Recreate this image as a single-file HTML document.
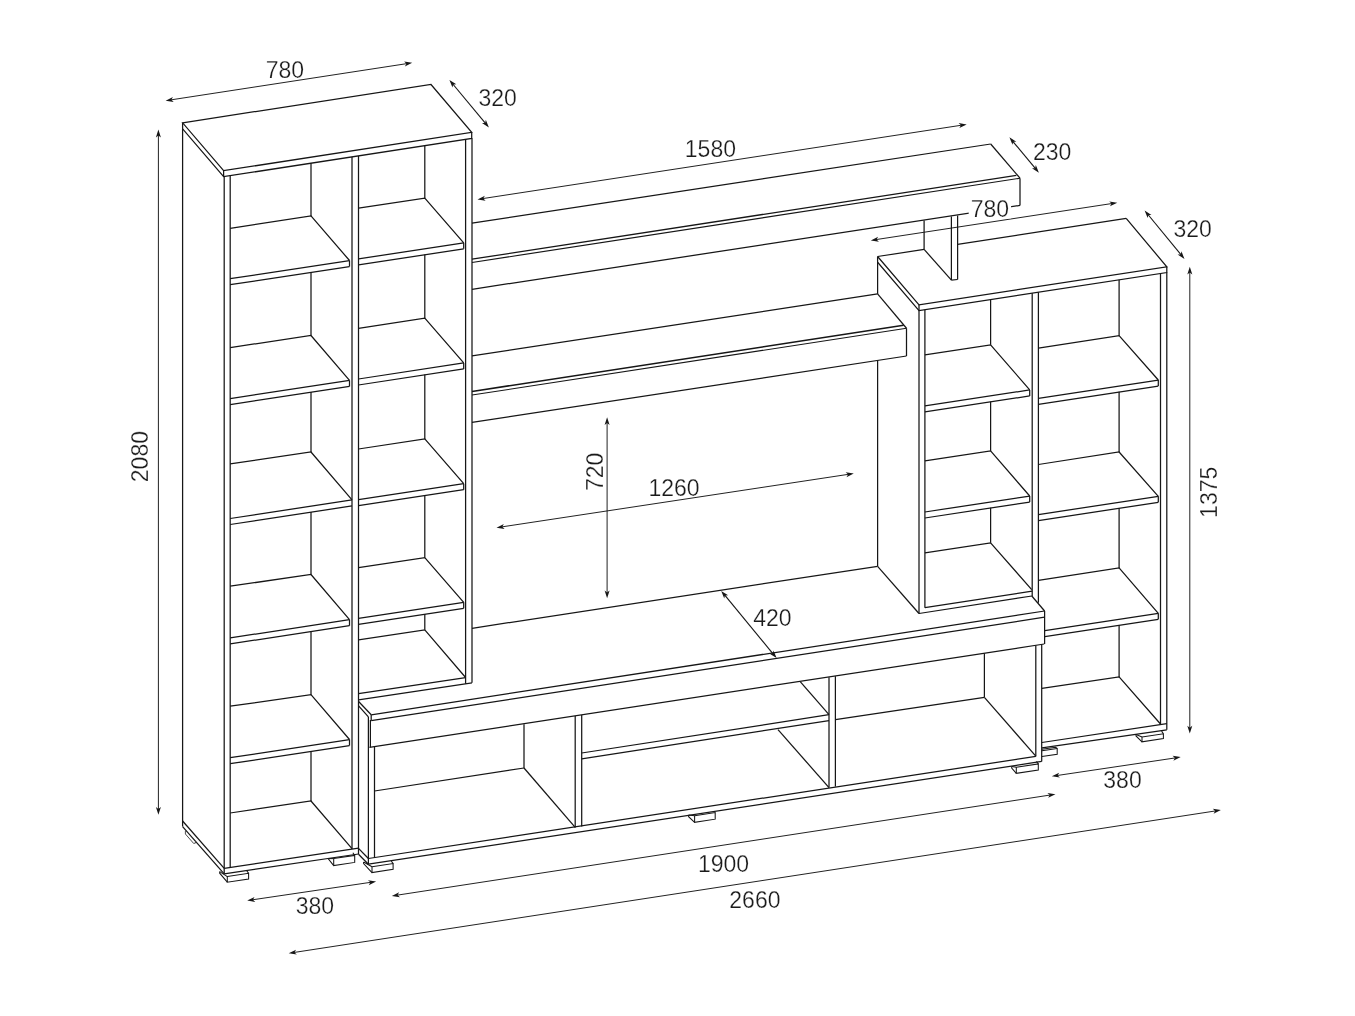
<!DOCTYPE html>
<html><head><meta charset="utf-8"><title>Diagram</title>
<style>
html,body{margin:0;padding:0;background:#fff;}
body{width:1355px;height:1016px;overflow:hidden;font-family:"Liberation Sans",sans-serif;}
svg{display:block;will-change:transform;}
text{font-family:"Liberation Sans",sans-serif;}
</style></head><body>
<svg width="1355" height="1016" viewBox="0 0 1355 1016">
<rect width="1355" height="1016" fill="#ffffff"/>
<polygon points="182.60,122.80 431.00,84.50 471.70,132.40 223.60,170.70" fill="none" stroke="#161616" stroke-width="1.25" stroke-linejoin="miter"/>
<polyline points="182.60,122.80 182.60,128.80 223.60,176.70 471.70,138.40 471.70,132.40" fill="none" stroke="#161616" stroke-width="1.25" stroke-linejoin="miter"/>
<line x1="223.60" y1="170.70" x2="223.60" y2="176.70" stroke="#161616" stroke-width="1.25"/>
<line x1="182.60" y1="128.80" x2="182.60" y2="826.60" stroke="#161616" stroke-width="1.25"/>
<line x1="224.20" y1="176.60" x2="224.20" y2="873.80" stroke="#161616" stroke-width="1.25"/>
<line x1="230.20" y1="175.70" x2="230.20" y2="867.40" stroke="#161616" stroke-width="1.25"/>
<line x1="352.00" y1="156.88" x2="352.00" y2="848.90" stroke="#161616" stroke-width="1.25"/>
<line x1="358.50" y1="155.88" x2="358.50" y2="854.20" stroke="#161616" stroke-width="1.25"/>
<line x1="465.60" y1="139.34" x2="465.60" y2="683.80" stroke="#161616" stroke-width="1.25"/>
<line x1="472.00" y1="138.35" x2="472.00" y2="682.80" stroke="#161616" stroke-width="1.25"/>
<line x1="230.20" y1="278.70" x2="349.50" y2="260.51" stroke="#161616" stroke-width="1.25"/>
<line x1="230.20" y1="284.70" x2="349.50" y2="266.51" stroke="#161616" stroke-width="1.25"/>
<line x1="349.50" y1="260.51" x2="349.50" y2="266.51" stroke="#161616" stroke-width="1.25"/>
<polyline points="230.20,228.40 311.00,215.90 349.50,260.51" fill="none" stroke="#161616" stroke-width="1.25" stroke-linejoin="miter"/>
<line x1="311.00" y1="163.21" x2="311.00" y2="215.90" stroke="#161616" stroke-width="1.25"/>
<line x1="230.20" y1="398.60" x2="349.50" y2="380.41" stroke="#161616" stroke-width="1.25"/>
<line x1="230.20" y1="404.60" x2="349.50" y2="386.41" stroke="#161616" stroke-width="1.25"/>
<line x1="349.50" y1="380.41" x2="349.50" y2="386.41" stroke="#161616" stroke-width="1.25"/>
<polyline points="230.20,347.60 311.00,335.50 349.50,380.41" fill="none" stroke="#161616" stroke-width="1.25" stroke-linejoin="miter"/>
<line x1="311.00" y1="272.10" x2="311.00" y2="335.50" stroke="#161616" stroke-width="1.25"/>
<line x1="230.20" y1="518.50" x2="352.00" y2="499.93" stroke="#161616" stroke-width="1.25"/>
<line x1="230.20" y1="524.50" x2="352.00" y2="505.93" stroke="#161616" stroke-width="1.25"/>
<polyline points="230.20,463.90 311.00,452.00 352.00,499.93" fill="none" stroke="#161616" stroke-width="1.25" stroke-linejoin="miter"/>
<line x1="311.00" y1="392.00" x2="311.00" y2="452.00" stroke="#161616" stroke-width="1.25"/>
<line x1="230.20" y1="637.90" x2="349.50" y2="619.71" stroke="#161616" stroke-width="1.25"/>
<line x1="230.20" y1="643.90" x2="349.50" y2="625.71" stroke="#161616" stroke-width="1.25"/>
<line x1="349.50" y1="619.71" x2="349.50" y2="625.71" stroke="#161616" stroke-width="1.25"/>
<polyline points="230.20,586.20 311.00,574.50 349.50,619.71" fill="none" stroke="#161616" stroke-width="1.25" stroke-linejoin="miter"/>
<line x1="311.00" y1="511.90" x2="311.00" y2="574.50" stroke="#161616" stroke-width="1.25"/>
<line x1="230.20" y1="757.70" x2="349.50" y2="739.51" stroke="#161616" stroke-width="1.25"/>
<line x1="230.20" y1="763.70" x2="349.50" y2="745.51" stroke="#161616" stroke-width="1.25"/>
<line x1="349.50" y1="739.51" x2="349.50" y2="745.51" stroke="#161616" stroke-width="1.25"/>
<polyline points="230.20,706.20 311.00,694.70 349.50,739.51" fill="none" stroke="#161616" stroke-width="1.25" stroke-linejoin="miter"/>
<line x1="311.00" y1="631.30" x2="311.00" y2="694.70" stroke="#161616" stroke-width="1.25"/>
<polyline points="230.20,813.00 311.00,801.00 352.00,848.70" fill="none" stroke="#161616" stroke-width="1.25" stroke-linejoin="miter"/>
<line x1="311.00" y1="751.10" x2="311.00" y2="801.00" stroke="#161616" stroke-width="1.25"/>
<line x1="224.20" y1="868.30" x2="358.50" y2="848.20" stroke="#161616" stroke-width="1.25"/>
<line x1="224.20" y1="873.80" x2="358.50" y2="854.00" stroke="#161616" stroke-width="1.25"/>
<line x1="182.60" y1="821.00" x2="224.20" y2="868.30" stroke="#161616" stroke-width="1.25"/>
<line x1="182.60" y1="826.60" x2="224.20" y2="873.80" stroke="#161616" stroke-width="1.25"/>
<line x1="358.50" y1="258.90" x2="463.70" y2="242.86" stroke="#161616" stroke-width="1.25"/>
<line x1="358.50" y1="264.90" x2="463.70" y2="248.86" stroke="#161616" stroke-width="1.25"/>
<line x1="463.70" y1="242.86" x2="463.70" y2="248.86" stroke="#161616" stroke-width="1.25"/>
<polyline points="358.50,208.20 424.80,198.10 463.70,242.86" fill="none" stroke="#161616" stroke-width="1.25" stroke-linejoin="miter"/>
<line x1="424.80" y1="145.64" x2="424.80" y2="198.10" stroke="#161616" stroke-width="1.25"/>
<line x1="358.50" y1="379.00" x2="463.70" y2="362.96" stroke="#161616" stroke-width="1.25"/>
<line x1="358.50" y1="385.00" x2="463.70" y2="368.96" stroke="#161616" stroke-width="1.25"/>
<line x1="463.70" y1="362.96" x2="463.70" y2="368.96" stroke="#161616" stroke-width="1.25"/>
<polyline points="358.50,328.30 424.80,318.20 463.70,362.96" fill="none" stroke="#161616" stroke-width="1.25" stroke-linejoin="miter"/>
<line x1="424.80" y1="254.50" x2="424.80" y2="318.20" stroke="#161616" stroke-width="1.25"/>
<line x1="358.50" y1="499.70" x2="463.70" y2="483.66" stroke="#161616" stroke-width="1.25"/>
<line x1="358.50" y1="505.70" x2="463.70" y2="489.66" stroke="#161616" stroke-width="1.25"/>
<line x1="463.70" y1="483.66" x2="463.70" y2="489.66" stroke="#161616" stroke-width="1.25"/>
<polyline points="358.50,449.00 424.80,438.90 463.70,483.66" fill="none" stroke="#161616" stroke-width="1.25" stroke-linejoin="miter"/>
<line x1="424.80" y1="374.60" x2="424.80" y2="438.90" stroke="#161616" stroke-width="1.25"/>
<line x1="358.50" y1="618.40" x2="463.70" y2="602.36" stroke="#161616" stroke-width="1.25"/>
<line x1="358.50" y1="624.40" x2="463.70" y2="608.36" stroke="#161616" stroke-width="1.25"/>
<line x1="463.70" y1="602.36" x2="463.70" y2="608.36" stroke="#161616" stroke-width="1.25"/>
<polyline points="358.50,567.70 424.80,557.60 463.70,602.36" fill="none" stroke="#161616" stroke-width="1.25" stroke-linejoin="miter"/>
<line x1="424.80" y1="495.30" x2="424.80" y2="557.60" stroke="#161616" stroke-width="1.25"/>
<polyline points="358.50,639.80 424.80,629.80 465.60,677.50" fill="none" stroke="#161616" stroke-width="1.25" stroke-linejoin="miter"/>
<line x1="424.80" y1="614.00" x2="424.80" y2="629.80" stroke="#161616" stroke-width="1.25"/>
<line x1="358.50" y1="693.60" x2="465.60" y2="677.60" stroke="#161616" stroke-width="1.25"/>
<line x1="358.50" y1="699.80" x2="472.00" y2="682.80" stroke="#161616" stroke-width="1.25"/>
<polygon points="227.30,876.60 248.60,873.35 248.60,878.95 227.30,882.20" fill="none" stroke="#161616" stroke-width="1.05" stroke-linejoin="miter"/>
<polyline points="219.70,871.60 227.30,876.60" fill="none" stroke="#161616" stroke-width="1.05" stroke-linejoin="miter"/>
<polyline points="219.70,871.60 219.70,873.20 227.30,882.20" fill="none" stroke="#161616" stroke-width="1.05" stroke-linejoin="miter"/>
<line x1="246.80" y1="870.75" x2="248.60" y2="873.35" stroke="#161616" stroke-width="1.05"/>
<polygon points="333.70,858.60 354.70,855.40 354.70,862.40 333.70,865.60" fill="none" stroke="#161616" stroke-width="1.05" stroke-linejoin="miter"/>
<polyline points="328.50,858.60 333.70,858.60" fill="none" stroke="#161616" stroke-width="1.05" stroke-linejoin="miter"/>
<polyline points="328.50,858.60 328.50,859.00 333.70,865.60" fill="none" stroke="#161616" stroke-width="1.05" stroke-linejoin="miter"/>
<line x1="352.90" y1="852.80" x2="354.70" y2="855.40" stroke="#161616" stroke-width="1.05"/>
<polyline points="185.40,831.00 185.40,834.00 193.60,843.40 195.60,843.00 195.60,840.90" fill="none" stroke="#3a3a3a" stroke-width="0.9" stroke-linejoin="miter"/>
<line x1="472.00" y1="223.20" x2="990.70" y2="144.00" stroke="#161616" stroke-width="1.25"/>
<line x1="990.70" y1="144.00" x2="1020.00" y2="178.20" stroke="#161616" stroke-width="1.25"/>
<line x1="472.00" y1="259.20" x2="1016.40" y2="175.40" stroke="#161616" stroke-width="1.3"/>
<line x1="472.00" y1="262.50" x2="1020.00" y2="178.20" stroke="#161616" stroke-width="1.15"/>
<line x1="1020.00" y1="178.20" x2="1020.00" y2="205.40" stroke="#161616" stroke-width="1.25"/>
<line x1="472.00" y1="289.30" x2="1020.00" y2="205.40" stroke="#161616" stroke-width="1.25"/>
<line x1="924.10" y1="220.60" x2="924.10" y2="249.40" stroke="#161616" stroke-width="1.25"/>
<line x1="951.40" y1="216.40" x2="951.40" y2="280.10" stroke="#161616" stroke-width="1.25"/>
<line x1="957.60" y1="215.50" x2="957.60" y2="279.50" stroke="#161616" stroke-width="1.25"/>
<line x1="951.40" y1="280.10" x2="957.60" y2="279.50" stroke="#161616" stroke-width="1.25"/>
<line x1="924.10" y1="249.40" x2="951.40" y2="280.10" stroke="#161616" stroke-width="1.25"/>
<line x1="472.00" y1="355.90" x2="877.60" y2="293.90" stroke="#161616" stroke-width="1.25"/>
<line x1="877.60" y1="293.90" x2="906.50" y2="328.25" stroke="#161616" stroke-width="1.25"/>
<line x1="472.00" y1="391.50" x2="903.60" y2="325.30" stroke="#161616" stroke-width="1.6"/>
<line x1="472.00" y1="395.00" x2="906.50" y2="328.25" stroke="#161616" stroke-width="1.05"/>
<line x1="906.50" y1="328.25" x2="906.50" y2="356.00" stroke="#161616" stroke-width="1.25"/>
<line x1="472.00" y1="422.40" x2="906.50" y2="356.00" stroke="#161616" stroke-width="1.25"/>
<line x1="877.60" y1="256.50" x2="924.10" y2="249.40" stroke="#161616" stroke-width="1.25"/>
<line x1="957.60" y1="244.30" x2="1126.20" y2="218.40" stroke="#161616" stroke-width="1.25"/>
<polyline points="1126.20,218.40 1166.80,266.80 919.00,304.90 877.60,256.50" fill="none" stroke="#161616" stroke-width="1.25" stroke-linejoin="miter"/>
<polyline points="877.60,256.50 877.60,262.20 919.00,310.60 1166.80,272.50 1166.80,266.80" fill="none" stroke="#161616" stroke-width="1.25" stroke-linejoin="miter"/>
<line x1="919.00" y1="304.90" x2="919.00" y2="310.60" stroke="#161616" stroke-width="1.25"/>
<line x1="877.60" y1="262.00" x2="877.60" y2="293.90" stroke="#161616" stroke-width="1.25"/>
<line x1="877.60" y1="360.40" x2="877.60" y2="566.30" stroke="#161616" stroke-width="1.25"/>
<line x1="919.00" y1="310.60" x2="919.00" y2="613.50" stroke="#161616" stroke-width="1.25"/>
<line x1="924.90" y1="309.69" x2="924.90" y2="607.70" stroke="#161616" stroke-width="1.25"/>
<line x1="1032.20" y1="293.20" x2="1032.20" y2="595.90" stroke="#161616" stroke-width="1.25"/>
<line x1="1038.40" y1="292.24" x2="1038.40" y2="602.80" stroke="#161616" stroke-width="1.25"/>
<line x1="1160.50" y1="273.47" x2="1160.50" y2="724.20" stroke="#161616" stroke-width="1.25"/>
<line x1="1166.80" y1="272.50" x2="1166.80" y2="729.80" stroke="#161616" stroke-width="1.25"/>
<line x1="924.90" y1="405.90" x2="1029.70" y2="389.92" stroke="#161616" stroke-width="1.25"/>
<line x1="924.90" y1="411.90" x2="1029.70" y2="395.92" stroke="#161616" stroke-width="1.25"/>
<line x1="1029.70" y1="389.92" x2="1029.70" y2="395.92" stroke="#161616" stroke-width="1.25"/>
<polyline points="924.90,354.80 990.60,344.80 1029.70,389.92" fill="none" stroke="#161616" stroke-width="1.25" stroke-linejoin="miter"/>
<line x1="990.60" y1="299.59" x2="990.60" y2="344.80" stroke="#161616" stroke-width="1.25"/>
<line x1="924.90" y1="512.00" x2="1029.70" y2="496.02" stroke="#161616" stroke-width="1.25"/>
<line x1="924.90" y1="518.00" x2="1029.70" y2="502.02" stroke="#161616" stroke-width="1.25"/>
<line x1="1029.70" y1="496.02" x2="1029.70" y2="502.02" stroke="#161616" stroke-width="1.25"/>
<polyline points="924.90,460.90 990.60,450.90 1029.70,496.02" fill="none" stroke="#161616" stroke-width="1.25" stroke-linejoin="miter"/>
<line x1="990.60" y1="401.60" x2="990.60" y2="450.90" stroke="#161616" stroke-width="1.25"/>
<polyline points="924.90,552.90 990.60,542.80 1031.70,589.60" fill="none" stroke="#161616" stroke-width="1.25" stroke-linejoin="miter"/>
<line x1="990.60" y1="507.70" x2="990.60" y2="542.80" stroke="#161616" stroke-width="1.25"/>
<line x1="924.90" y1="607.70" x2="1032.20" y2="591.20" stroke="#161616" stroke-width="1.25"/>
<line x1="919.00" y1="613.50" x2="1031.90" y2="596.00" stroke="#161616" stroke-width="1.25"/>
<line x1="1038.40" y1="398.30" x2="1158.30" y2="380.02" stroke="#161616" stroke-width="1.25"/>
<line x1="1038.40" y1="404.30" x2="1158.30" y2="386.02" stroke="#161616" stroke-width="1.25"/>
<line x1="1158.30" y1="380.02" x2="1158.30" y2="386.02" stroke="#161616" stroke-width="1.25"/>
<polyline points="1038.40,348.20 1119.10,335.70 1158.30,380.02" fill="none" stroke="#161616" stroke-width="1.25" stroke-linejoin="miter"/>
<line x1="1119.10" y1="279.83" x2="1119.10" y2="335.70" stroke="#161616" stroke-width="1.25"/>
<line x1="1038.40" y1="514.60" x2="1158.30" y2="496.32" stroke="#161616" stroke-width="1.25"/>
<line x1="1038.40" y1="520.60" x2="1158.30" y2="502.32" stroke="#161616" stroke-width="1.25"/>
<line x1="1158.30" y1="496.32" x2="1158.30" y2="502.32" stroke="#161616" stroke-width="1.25"/>
<polyline points="1038.40,464.50 1119.10,452.00 1158.30,496.32" fill="none" stroke="#161616" stroke-width="1.25" stroke-linejoin="miter"/>
<line x1="1119.10" y1="391.70" x2="1119.10" y2="452.00" stroke="#161616" stroke-width="1.25"/>
<line x1="1044.80" y1="630.60" x2="1158.30" y2="613.29" stroke="#161616" stroke-width="1.25"/>
<line x1="1044.80" y1="636.60" x2="1158.30" y2="619.29" stroke="#161616" stroke-width="1.25"/>
<line x1="1158.30" y1="613.29" x2="1158.30" y2="619.29" stroke="#161616" stroke-width="1.25"/>
<polyline points="1038.40,580.30 1119.10,567.90 1158.30,613.29" fill="none" stroke="#161616" stroke-width="1.25" stroke-linejoin="miter"/>
<line x1="1119.10" y1="508.00" x2="1119.10" y2="567.90" stroke="#161616" stroke-width="1.25"/>
<polyline points="1041.90,688.30 1119.10,676.90 1160.50,724.00" fill="none" stroke="#161616" stroke-width="1.25" stroke-linejoin="miter"/>
<line x1="1119.10" y1="625.27" x2="1119.10" y2="676.90" stroke="#161616" stroke-width="1.25"/>
<line x1="1041.90" y1="742.50" x2="1166.80" y2="723.60" stroke="#161616" stroke-width="1.25"/>
<line x1="1041.90" y1="747.80" x2="1166.80" y2="729.80" stroke="#161616" stroke-width="1.25"/>
<polygon points="1142.00,737.00 1163.40,733.74 1163.40,738.54 1142.00,741.80" fill="none" stroke="#161616" stroke-width="1.05" stroke-linejoin="miter"/>
<polyline points="1136.00,734.40 1142.00,737.00" fill="none" stroke="#161616" stroke-width="1.05" stroke-linejoin="miter"/>
<polyline points="1136.00,734.40 1136.00,736.00 1142.00,741.80" fill="none" stroke="#161616" stroke-width="1.05" stroke-linejoin="miter"/>
<line x1="1161.60" y1="731.14" x2="1163.40" y2="733.74" stroke="#161616" stroke-width="1.05"/>
<polyline points="1041.90,749.20 1055.60,747.30 1057.20,748.60 1057.20,754.30 1041.90,756.50" fill="none" stroke="#161616" stroke-width="1.05" stroke-linejoin="miter"/>
<line x1="1041.90" y1="750.80" x2="1057.20" y2="748.60" stroke="#161616" stroke-width="1.05"/>
<line x1="472.00" y1="628.30" x2="877.60" y2="566.30" stroke="#161616" stroke-width="1.25"/>
<line x1="877.60" y1="566.30" x2="919.00" y2="613.50" stroke="#161616" stroke-width="1.25"/>
<line x1="358.60" y1="701.50" x2="371.20" y2="714.80" stroke="#161616" stroke-width="1.25"/>
<line x1="371.20" y1="714.80" x2="1044.60" y2="611.00" stroke="#161616" stroke-width="1.25"/>
<line x1="371.20" y1="720.60" x2="1044.60" y2="617.20" stroke="#161616" stroke-width="1.25"/>
<line x1="369.40" y1="747.30" x2="1044.20" y2="644.00" stroke="#161616" stroke-width="1.25"/>
<line x1="1031.80" y1="596.00" x2="1044.60" y2="611.00" stroke="#161616" stroke-width="1.25"/>
<line x1="1044.60" y1="611.00" x2="1044.60" y2="644.00" stroke="#161616" stroke-width="1.25"/>
<line x1="358.60" y1="705.90" x2="368.40" y2="716.90" stroke="#161616" stroke-width="1.25"/>
<line x1="368.40" y1="716.90" x2="368.40" y2="864.20" stroke="#161616" stroke-width="1.25"/>
<line x1="371.20" y1="714.80" x2="371.20" y2="720.40" stroke="#161616" stroke-width="1.25"/>
<line x1="370.40" y1="720.00" x2="370.40" y2="747.20" stroke="#161616" stroke-width="1.25"/>
<line x1="374.50" y1="746.50" x2="374.50" y2="857.60" stroke="#161616" stroke-width="1.25"/>
<line x1="358.50" y1="848.40" x2="368.40" y2="858.50" stroke="#161616" stroke-width="1.25"/>
<line x1="358.50" y1="854.20" x2="368.40" y2="864.20" stroke="#161616" stroke-width="1.25"/>
<line x1="368.40" y1="858.50" x2="1035.80" y2="756.40" stroke="#161616" stroke-width="1.25"/>
<line x1="368.40" y1="864.20" x2="1041.70" y2="761.40" stroke="#161616" stroke-width="1.25"/>
<line x1="1035.80" y1="645.40" x2="1035.80" y2="756.40" stroke="#161616" stroke-width="1.25"/>
<line x1="1041.70" y1="644.50" x2="1041.70" y2="761.40" stroke="#161616" stroke-width="1.25"/>
<line x1="374.50" y1="791.00" x2="524.00" y2="768.00" stroke="#161616" stroke-width="1.25"/>
<line x1="524.00" y1="724.20" x2="524.00" y2="768.00" stroke="#161616" stroke-width="1.25"/>
<line x1="524.00" y1="768.00" x2="575.20" y2="827.40" stroke="#161616" stroke-width="1.25"/>
<line x1="575.20" y1="716.00" x2="575.20" y2="827.40" stroke="#161616" stroke-width="1.25"/>
<line x1="581.70" y1="715.00" x2="581.70" y2="826.40" stroke="#161616" stroke-width="1.25"/>
<line x1="581.70" y1="753.00" x2="829.00" y2="714.70" stroke="#161616" stroke-width="1.25"/>
<line x1="581.70" y1="758.90" x2="829.00" y2="720.60" stroke="#161616" stroke-width="1.25"/>
<line x1="800.20" y1="681.60" x2="829.00" y2="714.70" stroke="#161616" stroke-width="1.25"/>
<line x1="778.00" y1="729.60" x2="829.00" y2="787.60" stroke="#161616" stroke-width="1.25"/>
<line x1="829.00" y1="677.20" x2="829.00" y2="787.60" stroke="#161616" stroke-width="1.25"/>
<line x1="835.40" y1="676.20" x2="835.40" y2="786.60" stroke="#161616" stroke-width="1.25"/>
<line x1="835.40" y1="719.60" x2="984.40" y2="697.30" stroke="#161616" stroke-width="1.25"/>
<line x1="984.40" y1="653.40" x2="984.40" y2="697.30" stroke="#161616" stroke-width="1.25"/>
<line x1="984.40" y1="697.30" x2="1035.80" y2="756.20" stroke="#161616" stroke-width="1.25"/>
<polygon points="372.00,866.80 393.10,863.58 393.10,869.38 372.00,872.60" fill="none" stroke="#161616" stroke-width="1.05" stroke-linejoin="miter"/>
<polyline points="363.60,862.00 372.00,866.80" fill="none" stroke="#161616" stroke-width="1.05" stroke-linejoin="miter"/>
<polyline points="363.60,862.00 363.60,863.60 372.00,872.60" fill="none" stroke="#161616" stroke-width="1.05" stroke-linejoin="miter"/>
<line x1="391.30" y1="860.98" x2="393.10" y2="863.58" stroke="#161616" stroke-width="1.05"/>
<polygon points="694.60,815.70 715.20,812.56 715.20,819.16 694.60,822.30" fill="none" stroke="#161616" stroke-width="1.05" stroke-linejoin="miter"/>
<polyline points="688.60,815.10 694.60,815.70" fill="none" stroke="#161616" stroke-width="1.05" stroke-linejoin="miter"/>
<polyline points="688.60,815.10 688.60,816.70 694.60,822.30" fill="none" stroke="#161616" stroke-width="1.05" stroke-linejoin="miter"/>
<polygon points="1016.30,767.30 1038.30,763.94 1038.30,769.94 1016.30,773.30" fill="none" stroke="#161616" stroke-width="1.05" stroke-linejoin="miter"/>
<polyline points="1011.70,766.50 1016.30,767.30" fill="none" stroke="#161616" stroke-width="1.05" stroke-linejoin="miter"/>
<polyline points="1011.70,766.50 1011.70,768.10 1016.30,773.30" fill="none" stroke="#161616" stroke-width="1.05" stroke-linejoin="miter"/>
<line x1="1036.50" y1="761.34" x2="1038.30" y2="763.94" stroke="#161616" stroke-width="1.05"/>
<line x1="170.15" y1="99.99" x2="407.65" y2="63.51" stroke="#161616" stroke-width="0.95"/>
<polygon points="165.61,100.69 172.94,97.04 171.34,99.81 173.70,101.98" fill="#161616"/>
<polygon points="412.19,62.81 404.86,66.46 406.46,63.69 404.10,61.52" fill="#161616"/>
<text x="284.90" y="78.03" text-anchor="middle" font-size="23.0" fill="#1a1a1a" stroke="#ffffff" stroke-width="0.25">780</text>
<line x1="452.36" y1="83.48" x2="485.94" y2="123.92" stroke="#161616" stroke-width="1.1"/>
<polygon points="449.42,79.94 456.32,84.34 453.12,84.40 452.48,87.54" fill="#161616"/>
<polygon points="488.88,127.46 481.98,123.06 485.18,123.00 485.82,119.86" fill="#161616"/>
<text x="497.60" y="106.43" text-anchor="middle" font-size="23.0" fill="#1a1a1a" stroke="#ffffff" stroke-width="0.25">320</text>
<line x1="158.40" y1="134.20" x2="158.40" y2="810.20" stroke="#161616" stroke-width="0.95"/>
<polygon points="158.40,129.60 160.90,137.40 158.40,135.40 155.90,137.40" fill="#161616"/>
<polygon points="158.40,814.80 155.90,807.00 158.40,809.00 160.90,807.00" fill="#161616"/>
<text x="140.00" y="464.83" text-anchor="middle" font-size="23.0" fill="#1a1a1a" stroke="#ffffff" stroke-width="0.25" transform="rotate(-90 140.00 456.60)">2080</text>
<line x1="482.05" y1="198.69" x2="962.15" y2="125.11" stroke="#161616" stroke-width="0.95"/>
<polygon points="477.51,199.39 484.84,195.74 483.24,198.51 485.60,200.68" fill="#161616"/>
<polygon points="966.69,124.41 959.36,128.06 960.96,125.29 958.60,123.12" fill="#161616"/>
<text x="710.40" y="156.83" text-anchor="middle" font-size="23.0" fill="#1a1a1a" stroke="#ffffff" stroke-width="0.25">1580</text>
<line x1="1012.36" y1="140.78" x2="1035.94" y2="169.12" stroke="#161616" stroke-width="1.1"/>
<polygon points="1009.42,137.24 1016.33,141.64 1013.13,141.70 1012.48,144.83" fill="#161616"/>
<polygon points="1038.88,172.66 1031.97,168.26 1035.17,168.20 1035.82,165.07" fill="#161616"/>
<text x="1052.20" y="159.83" text-anchor="middle" font-size="23.0" fill="#1a1a1a" stroke="#ffffff" stroke-width="0.25">230</text>
<line x1="875.35" y1="239.70" x2="1112.75" y2="203.40" stroke="#161616" stroke-width="0.95"/>
<polygon points="870.81,240.39 878.14,236.74 876.54,239.51 878.90,241.68" fill="#161616"/>
<polygon points="1117.29,202.71 1109.96,206.36 1111.56,203.59 1109.20,201.42" fill="#161616"/>
<rect x="968.72" y="199.04" width="42.36" height="19.32" fill="#fff"/>
<text x="989.90" y="216.93" text-anchor="middle" font-size="23.0" fill="#1a1a1a" stroke="#ffffff" stroke-width="0.25">780</text>
<line x1="1147.54" y1="213.99" x2="1181.56" y2="255.41" stroke="#161616" stroke-width="1.1"/>
<polygon points="1144.62,210.44 1151.50,214.88 1148.30,214.92 1147.64,218.05" fill="#161616"/>
<polygon points="1184.48,258.96 1177.60,254.52 1180.80,254.48 1181.46,251.35" fill="#161616"/>
<text x="1192.70" y="237.23" text-anchor="middle" font-size="23.0" fill="#1a1a1a" stroke="#ffffff" stroke-width="0.25">320</text>
<line x1="1189.80" y1="271.40" x2="1189.80" y2="728.90" stroke="#161616" stroke-width="0.95"/>
<polygon points="1189.80,266.80 1192.30,274.60 1189.80,272.60 1187.30,274.60" fill="#161616"/>
<polygon points="1189.80,733.50 1187.30,725.70 1189.80,727.70 1192.30,725.70" fill="#161616"/>
<text x="1208.70" y="500.53" text-anchor="middle" font-size="23.0" fill="#1a1a1a" stroke="#ffffff" stroke-width="0.25" transform="rotate(-90 1208.70 492.30)">1375</text>
<line x1="607.10" y1="421.90" x2="607.10" y2="593.60" stroke="#161616" stroke-width="0.95"/>
<polygon points="607.10,417.30 609.60,425.10 607.10,423.10 604.60,425.10" fill="#161616"/>
<polygon points="607.10,598.20 604.60,590.40 607.10,592.40 609.60,590.40" fill="#161616"/>
<text x="594.30" y="480.13" text-anchor="middle" font-size="23.0" fill="#1a1a1a" stroke="#ffffff" stroke-width="0.25" transform="rotate(-90 594.30 471.90)">720</text>
<line x1="501.05" y1="527.00" x2="849.25" y2="474.20" stroke="#161616" stroke-width="0.95"/>
<polygon points="496.51,527.69 503.84,524.05 502.24,526.82 504.59,528.99" fill="#161616"/>
<polygon points="853.79,473.51 846.46,477.15 848.06,474.38 845.71,472.21" fill="#161616"/>
<text x="674.10" y="495.93" text-anchor="middle" font-size="23.0" fill="#1a1a1a" stroke="#ffffff" stroke-width="0.25">1260</text>
<line x1="724.15" y1="594.49" x2="773.65" y2="654.51" stroke="#161616" stroke-width="1.15"/>
<polygon points="721.22,590.94 728.11,595.36 724.91,595.41 724.25,598.55" fill="#161616"/>
<polygon points="776.58,658.06 769.69,653.64 772.89,653.59 773.55,650.45" fill="#161616"/>
<text x="772.40" y="626.43" text-anchor="middle" font-size="23.0" fill="#1a1a1a" stroke="#ffffff" stroke-width="0.25">420</text>
<line x1="251.76" y1="899.91" x2="371.54" y2="882.19" stroke="#161616" stroke-width="0.95"/>
<polygon points="247.21,900.59 254.56,896.97 252.94,899.74 255.29,901.92" fill="#161616"/>
<polygon points="376.09,881.51 368.74,885.13 370.36,882.36 368.01,880.18" fill="#161616"/>
<text x="314.90" y="913.63" text-anchor="middle" font-size="23.0" fill="#1a1a1a" stroke="#ffffff" stroke-width="0.25">380</text>
<line x1="396.35" y1="895.29" x2="1050.95" y2="794.91" stroke="#161616" stroke-width="0.95"/>
<polygon points="391.81,895.99 399.14,892.34 397.54,895.11 399.90,897.28" fill="#161616"/>
<polygon points="1055.49,794.21 1048.16,797.86 1049.76,795.09 1047.40,792.92" fill="#161616"/>
<text x="723.50" y="871.63" text-anchor="middle" font-size="23.0" fill="#1a1a1a" stroke="#ffffff" stroke-width="0.25">1900</text>
<line x1="293.25" y1="952.59" x2="1216.35" y2="810.81" stroke="#161616" stroke-width="0.95"/>
<polygon points="288.71,953.29 296.04,949.64 294.44,952.41 296.80,954.58" fill="#161616"/>
<polygon points="1220.89,810.11 1213.56,813.76 1215.16,810.99 1212.80,808.82" fill="#161616"/>
<text x="754.90" y="907.73" text-anchor="middle" font-size="23.0" fill="#1a1a1a" stroke="#ffffff" stroke-width="0.25">2660</text>
<line x1="1056.36" y1="775.61" x2="1176.14" y2="757.79" stroke="#161616" stroke-width="0.95"/>
<polygon points="1051.81,776.29 1059.15,772.67 1057.54,775.43 1059.89,777.61" fill="#161616"/>
<polygon points="1180.69,757.11 1173.35,760.73 1174.96,757.97 1172.61,755.79" fill="#161616"/>
<text x="1122.50" y="788.23" text-anchor="middle" font-size="23.0" fill="#1a1a1a" stroke="#ffffff" stroke-width="0.25">380</text>
</svg>
</body></html>
